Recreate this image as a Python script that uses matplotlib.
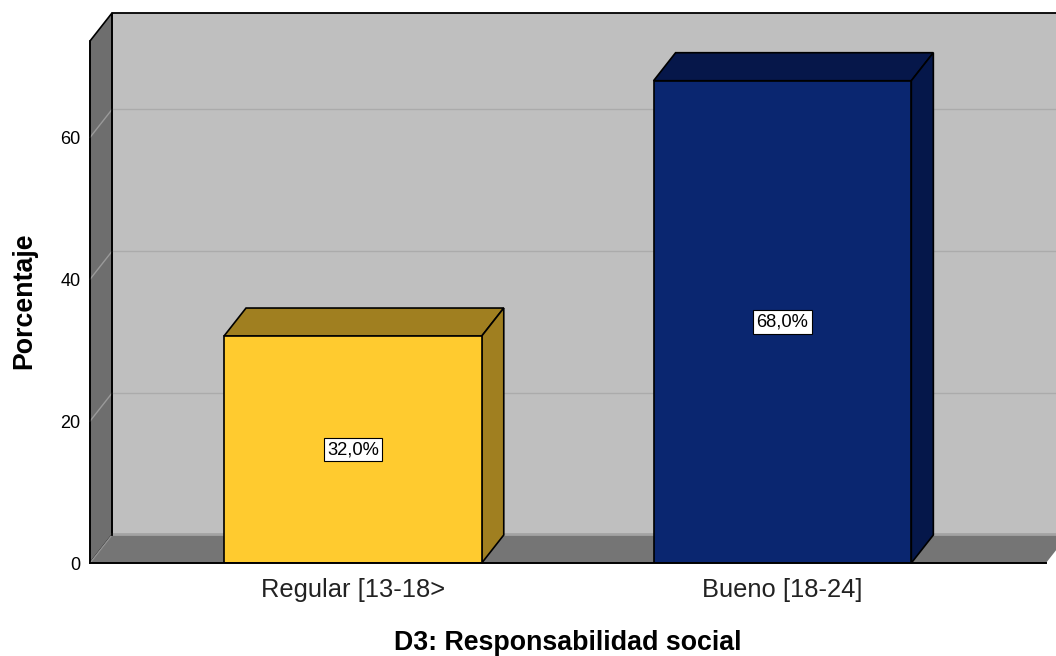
import matplotlib

matplotlib.use("Agg")
import matplotlib.pyplot as plt
from matplotlib.patches import Polygon

categories = ["Regular [13-18>", "Bueno [18-24]"]
percentages = [32.0, 68.0]
value_labels = ["32,0%", "68,0%"]
y_ticks = [0, 20, 40, 60]

front_colors = ["#FFCB2F", "#0A2670"]
top_colors = ["#A07F20", "#06174A"]
side_colors = ["#A07F20", "#05174A"]

plt.rcParams["font.family"] = ["Liberation Sans", "DejaVu Sans"]

W, H = 1056, 656
fig = plt.figure(figsize=(W / 100, H / 100), dpi=100)
ax = fig.add_axes([90 / W, (H - 563) / H, (1046 - 90) / W, (563 - 41) / H])

bar_width = 0.6
ymax = 73.6
ax.set_xlim(-0.612, 1.6135)
ax.set_ylim(0, ymax)

# depth of the fake 3D box, in data units
dx = 22 / 429.5
dy = 28 / 7.09
xl, xr = ax.get_xlim()

# back wall, side wall and floor
ax.add_patch(Polygon([(xl + dx, dy), (xr + dx, dy), (xr + dx, ymax + dy), (xl + dx, ymax + dy)],
                     fc="#BFBFBF", ec="none", clip_on=False, zorder=1))
ax.add_patch(Polygon([(xl, 0), (xl + dx, dy), (xl + dx, ymax + dy), (xl, ymax)],
                     fc="#6E6E6E", ec="black", lw=1.2, clip_on=False, zorder=2))
ax.add_patch(Polygon([(xl, 0), (xl + dx, dy), (xr + dx, dy), (xr, 0)],
                     fc="#757575", ec="none", clip_on=False, zorder=2))
ax.plot([xl + dx, xl + dx, xr + dx], [dy, ymax + dy, ymax + dy], color="black", lw=1.3,
        clip_on=False, zorder=3)
# lighter band where the wall meets the floor
ax.plot([xl + dx, xr + dx], [dy + 0.2, dy + 0.2], color="#A3A3A3", lw=2, clip_on=False, zorder=2.5)
ax.plot([xl, xl + dx], [0, dy], color="#939393", lw=1, clip_on=False, zorder=2.5)

# gridlines on the wall, with the slanted part on the side wall
for t in y_ticks[1:]:
    ax.plot([xl + dx, xr + dx], [t + dy, t + dy], color="#ABABAB", lw=1, clip_on=False, zorder=2.5)
    ax.plot([xl, xl + dx], [t, t + dy], color="#9A9A9A", lw=1, clip_on=False, zorder=2.5)

for i, val in enumerate(percentages):
    x0 = i - bar_width / 2
    x1 = i + bar_width / 2
    ax.bar(i, val, width=bar_width, color=front_colors[i], edgecolor="black", linewidth=1.2, zorder=5)
    ax.add_patch(Polygon([(x0, val), (x0 + dx, val + dy), (x1 + dx, val + dy), (x1, val)],
                         fc=top_colors[i], ec="black", lw=1.2, clip_on=False, zorder=4))
    ax.add_patch(Polygon([(x1, 0), (x1 + dx, dy), (x1 + dx, val + dy), (x1, val)],
                         fc=side_colors[i], ec="black", lw=1.2, clip_on=False, zorder=4))
    ax.text(i, val / 2, value_labels[i], ha="center", va="center", fontsize=13.2, zorder=6,
            bbox=dict(boxstyle="square,pad=0.18", fc="white", ec="black", lw=0.8))

for side in ["top", "right"]:
    ax.spines[side].set_visible(False)
ax.spines["left"].set_linewidth(1.2)
ax.spines["bottom"].set_linewidth(1.4)
ax.spines["bottom"].set_zorder(7)

ax.set_xticks(range(len(categories)), categories)
ax.set_yticks(y_ticks)
ax.tick_params(axis="x", length=0, pad=11, labelsize=18.4, labelcolor="#222222")
ax.tick_params(axis="y", length=0, pad=7, labelsize=13)

fig.text(568 / W, 1 - 643 / H, "D3: Responsabilidad social", ha="center", va="center",
         fontsize=19.3, fontweight="bold")
fig.text(24 / W, 1 - 301 / H, "Porcentaje", ha="center", va="center", rotation=90,
         fontsize=19.3, fontweight="bold")

fig.savefig("out.png", dpi=100)
